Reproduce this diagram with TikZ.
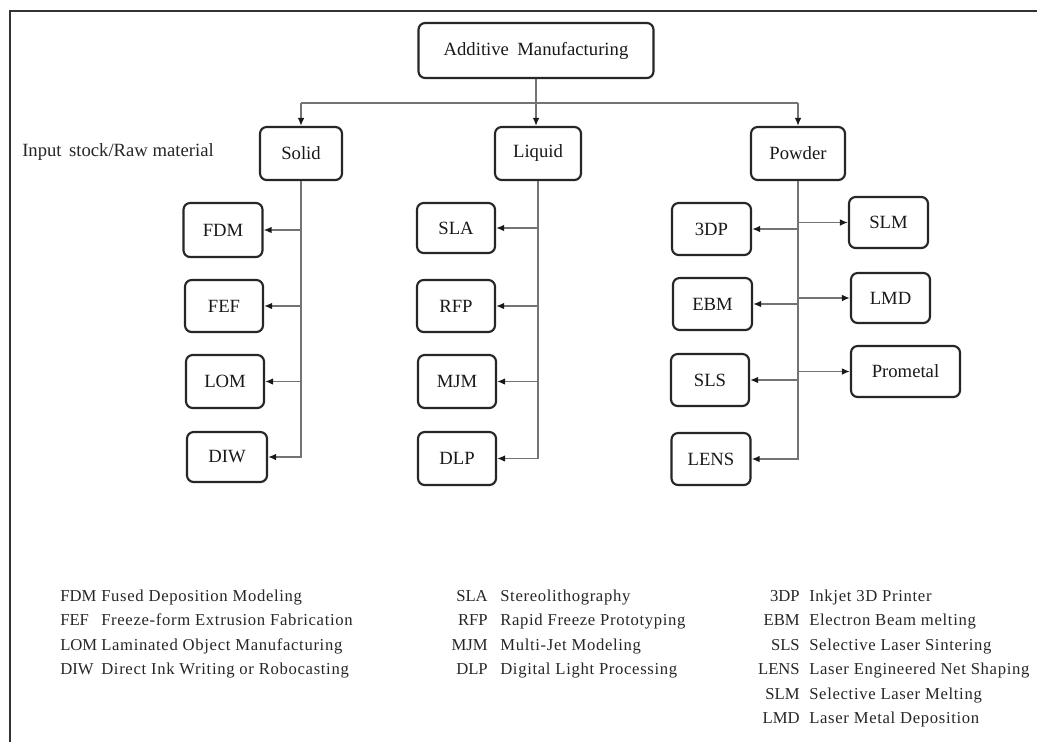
\documentclass[tikz,border=0pt]{standalone}
\usepackage{fontspec}
\setmainfont{Liberation Serif}
\newfontfamily\legfont{Liberation Serif}[LetterSpace=4]
\usetikzlibrary{arrows.meta}
\begin{document}
\begin{tikzpicture}[x=0.75pt,y=-0.75pt,
  sz/.style 2 args={minimum width=#1*0.75pt, minimum height=#2*0.75pt},
  box/.style={draw=black!85, line width=1.6pt, rounded corners=5pt, inner sep=0pt,
    font=\fontsize{14}{16}\selectfont, text=black!90},
  conn/.style={draw=black!55, line width=1.2pt},
  arr/.style={conn, -{Latex[length=6pt,width=5pt,fill=black!90,color=black!90]}},
  plain/.style={inner sep=0pt, text height=0.7em, text depth=0.2em, text=black!85},
  abbr/.style={plain, font=\fontsize{12.5}{14}\selectfont},
  desc/.style={plain, font=\legfont\fontsize{12.5}{14}\selectfont, anchor=west},
]
\fill[white] (0,0) rectangle (1037,742);
\useasboundingbox (0,0) rectangle (1037,742);
\draw[black!80, line width=1.5pt] (10,742) -- (10,11) -- (1037,11);

% top levels
\node[box, sz={235}{55}] (am) at (536,50.5) {Additive\hspace{0.45em}Manufacturing};
\node[box, sz={82}{53}] (solid) at (301,153.5) {Solid};
\node[box, sz={86}{53}] (liquid) at (538,153.5) {Liquid};
\node[box, sz={94}{53}] (powder) at (798,153.5) {Powder};
\node[plain, anchor=west, font=\fontsize{14}{16}\selectfont] (input) at (22,153) {Input\hspace{0.4em}stock/Raw material};

\coordinate (hl) at (301,103);
\coordinate (hr) at (798,103);
\draw[conn] (hl) -- (hr);
\draw[arr] (am.south) -- (am.south |- liquid.north);
\draw[arr] (hl) -- (solid.north);
\draw[arr] (hr) -- (powder.north);

% solid column
\node[box, sz={79}{54}] (fdm) at (223,230) {FDM};
\node[box, sz={78}{52}] (fef) at (224,306) {FEF};
\node[box, sz={78}{53}] (lom) at (225,381.5) {LOM};
\node[box, sz={80}{50}] (diw) at (227,457) {DIW};
\draw[arr] (solid.south) |- (diw.east);
\draw[arr] (solid.south |- fdm.east) -- (fdm.east);
\draw[arr] (solid.south |- fef.east) -- (fef.east);
\draw[arr] (solid.south |- lom.east) -- (lom.east);

% liquid column
\node[box, sz={78}{50}] (sla) at (456,228) {SLA};
\node[box, sz={78}{52}] (rfp) at (456,306) {RFP};
\node[box, sz={78}{53}] (mjm) at (457,381.5) {MJM};
\node[box, sz={78}{53}] (dlp) at (457,458.5) {DLP};
\draw[arr] (liquid.south) |- (dlp.east);
\draw[arr] (liquid.south |- sla.east) -- (sla.east);
\draw[arr] (liquid.south |- rfp.east) -- (rfp.east);
\draw[arr] (liquid.south |- mjm.east) -- (mjm.east);

% powder column
\node[box, sz={79}{52}] (tdp) at (711.5,229) {3DP};
\node[box, sz={79}{52}] (ebm) at (712.5,304) {EBM};
\node[box, sz={78}{52}] (sls) at (710,380) {SLS};
\node[box, sz={79}{52}] (lens) at (711,459) {LENS};
\node[box, sz={79}{51}] (slm) at (888.5,222.5) {SLM};
\node[box, sz={79}{50}] (lmd) at (890.5,298) {LMD};
\node[box, sz={109}{51}] (prometal) at (905.5,371.5) {Prometal};
\draw[arr] (powder.south) |- (lens.east);
\draw[arr] (powder.south |- tdp.east) -- (tdp.east);
\draw[arr] (powder.south |- ebm.east) -- (ebm.east);
\draw[arr] (powder.south |- sls.east) -- (sls.east);
\draw[arr] (powder.south |- slm.west) -- (slm.west);
\draw[arr] (powder.south |- lmd.west) -- (lmd.west);
\draw[arr] (powder.south |- prometal.west) -- (prometal.west);

% legend left
\node[abbr, anchor=west] (a1) at (60,598) {FDM};
\node[desc] (d1) at (101,598) {Fused Deposition Modeling};
\node[abbr, anchor=west] (a2) at (60,622.5) {FEF};
\node[desc] (d2) at (101,622.5) {Freeze-form Extrusion Fabrication};
\node[abbr, anchor=west] (a3) at (60,647) {LOM};
\node[desc] (d3) at (101,647) {Laminated Object Manufacturing};
\node[abbr, anchor=west] (a4) at (60,671.5) {DIW};
\node[desc] (d4) at (101,671.5) {Direct Ink Writing or Robocasting};

% legend middle
\node[abbr, anchor=east] (b1) at (488,598) {SLA};
\node[desc] (e1) at (500,598) {Stereolithography};
\node[abbr, anchor=east] (b2) at (488,622.5) {RFP};
\node[desc] (e2) at (500,622.5) {Rapid Freeze Prototyping};
\node[abbr, anchor=east] (b3) at (488,647) {MJM};
\node[desc] (e3) at (500,647) {Multi-Jet Modeling};
\node[abbr, anchor=east] (b4) at (488,671.5) {DLP};
\node[desc] (e4) at (500,671.5) {Digital Light Processing};

% legend right
\node[abbr, anchor=east] (c1) at (800,598) {3DP};
\node[desc] (f1) at (809,598) {Inkjet 3D Printer};
\node[abbr, anchor=east] (c2) at (800,622.5) {EBM};
\node[desc] (f2) at (809,622.5) {Electron Beam melting};
\node[abbr, anchor=east] (c3) at (800,647) {SLS};
\node[desc] (f3) at (809,647) {Selective Laser Sintering};
\node[abbr, anchor=east] (c4) at (800,671.5) {LENS};
\node[desc] (f4) at (809,671.5) {Laser Engineered Net Shaping};
\node[abbr, anchor=east] (c5) at (800,696) {SLM};
\node[desc] (f5) at (809,696) {Selective Laser Melting};
\node[abbr, anchor=east] (c6) at (800,720.5) {LMD};
\node[desc] (f6) at (809,720.5) {Laser Metal Deposition};
\end{tikzpicture}
\end{document}
